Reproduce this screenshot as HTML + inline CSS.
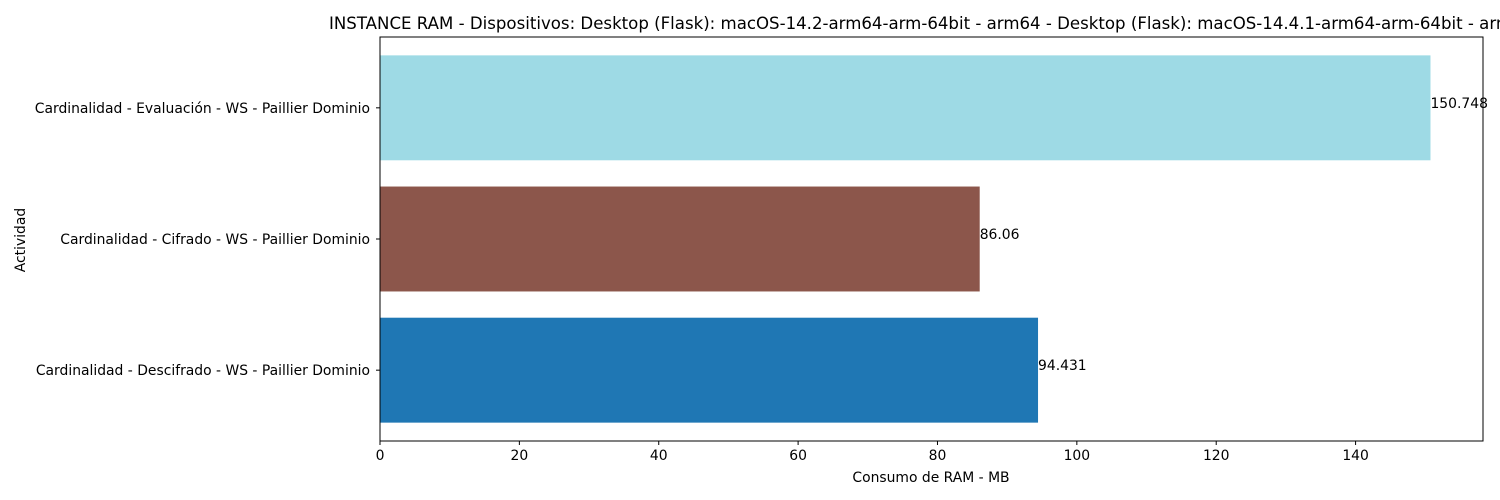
<!DOCTYPE html>
<html><head><meta charset="utf-8">
<style>
body{margin:0;background:#fff;}
svg{display:block;font-family:"DejaVu Sans","Liberation Sans",sans-serif;}
</style></head>
<body>
<svg id="chart" width="1500" height="500" xmlns="http://www.w3.org/2000/svg">
<text x="329" y="29" font-size="16.6" fill="#000">INSTANCE RAM - Dispositivos: Desktop (Flask): macOS-14.2-arm64-arm-64bit - arm64 - Desktop (Flask): macOS-14.4.1-arm64-arm-64bit - arm64</text>
<g id="plot"></g>
<rect x="380" y="37" width="1103" height="404" fill="none" stroke="#000" stroke-width="1"/>
<text x="931" y="482" font-size="13.9" text-anchor="middle">Consumo de RAM - MB</text>
<text transform="translate(25,240) rotate(-90)" font-size="13.9" text-anchor="middle">Actividad</text>
</svg>
<script>
const categories = ["Cardinalidad - Descifrado - WS - Paillier Dominio","Cardinalidad - Cifrado - WS - Paillier Dominio","Cardinalidad - Evaluación - WS - Paillier Dominio"];
const values = [94.431, 86.06, 150.748];
const valueLabels = ["94.431","86.06","150.748"];
const colors = ["#1f77b4","#8c564b","#9edae5"];
const xTicks = [0,20,40,60,80,100,120,140];

const NS="http://www.w3.org/2000/svg";
const g=document.getElementById('plot');
const L=380,R=1483,T=37,B=441;
const xMax=Math.max(...values)*1.05;
const xs=v=>L+(v/xMax)*(R-L);
const yMin=-0.54,yMax=categories.length-1+0.54;
const ys=v=>B-(v-yMin)/(yMax-yMin)*(B-T);
function mk(t,a){const e=document.createElementNS(NS,t);for(const k in a)e.setAttribute(k,a[k]);g.appendChild(e);return e;}
values.forEach((v,i)=>{
  const r=mk('rect',{x:xs(0),y:ys(i+0.4),width:xs(v)-xs(0),height:ys(i-0.4)-ys(i+0.4),fill:colors[i]});
  
  
  const t=mk('text',{x:xs(v),y:ys(i)+0,'font-size':13.9});
  t.textContent=valueLabels[i];
  
  
  const c=mk('text',{x:L-10,y:ys(i)+5,'font-size':13.9,'text-anchor':'end'});
  c.textContent=categories[i];
  
  
  const tk=mk('line',{x1:L-4,x2:L,y1:ys(i),y2:ys(i),stroke:'#000'});
  
  
});
xTicks.forEach((v,i)=>{
  const l=mk('line',{x1:xs(v),x2:xs(v),y1:B,y2:B+4,stroke:'#000'});
  
  
  const t=mk('text',{x:xs(v),y:B+19,'font-size':13.9,'text-anchor':'middle'});
  t.textContent=String(v);
  
  
});
</script>
</body></html>
